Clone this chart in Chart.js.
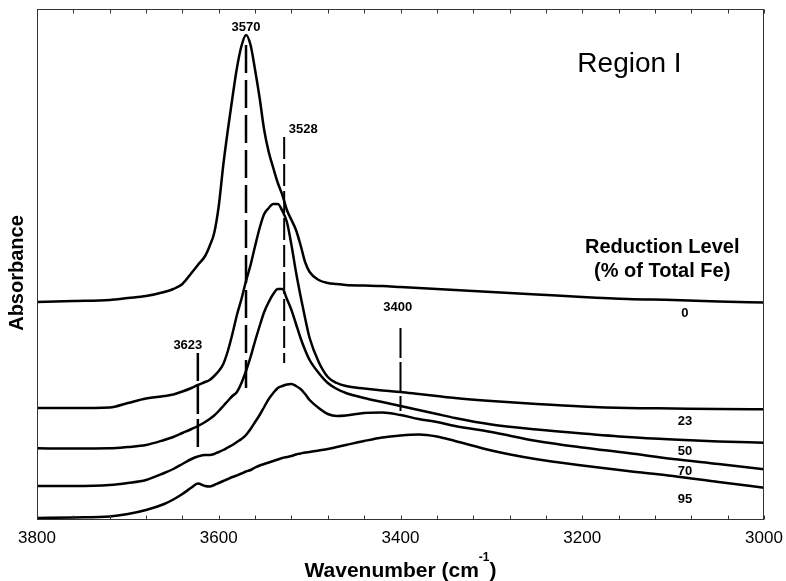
<!DOCTYPE html>
<html>
<head>
<meta charset="utf-8">
<title>Region I – OH stretching</title>
<script src="https://cdn.jsdelivr.net/npm/chart.js@4.4.1/dist/chart.umd.min.js"></script>
<style>
  html, body { margin: 0; padding: 0; background: #fff; }
  #wrap { width: 786px; height: 581px; }
</style>
</head>
<body>
<div id="wrap"><canvas id="spectra" width="786" height="581"></canvas></div>
<script>
/* --- Spectra: absorbance (arbitrary offset units) vs wavenumber --- */
var WAVENUMBERS = [3800, 3760, 3720, 3700, 3680, 3660, 3650, 3640, 3630, 3623,
  3615, 3610, 3605, 3600, 3595, 3590, 3585, 3580, 3575, 3570,
  3565, 3560, 3555, 3550, 3545, 3540, 3535, 3530, 3525, 3520,
  3515, 3510, 3505, 3500, 3490, 3480, 3470, 3460, 3440, 3420,
  3400, 3380, 3360, 3340, 3300, 3250, 3200, 3150, 3100, 3050, 3000];

var ABS_0 = [217, 218, 219, 221, 223, 227, 230, 235, 246, 254,
  263, 273, 286, 313, 354, 389, 421, 451, 473, 484,
  474, 449, 421, 389, 367, 351, 336, 324, 309, 299,
  289, 274, 257, 247, 239, 236, 235, 234, 233.5, 233,
  232, 231, 230, 229, 227, 224.5, 222, 220, 219, 217.5, 216.5];

var ABS_23 = [111, 111, 111.5, 116, 120.5, 123, 124.5, 127.5, 131, 134,
  137, 139, 143, 148, 155, 168, 185, 204, 220, 238,
  254, 273, 291, 305, 311, 315, 315, 308, 297, 274,
  247, 223, 201, 181, 157, 142, 136, 133, 130.5, 128.5,
  127, 125, 123, 121, 118, 115, 112.5, 111, 110.5, 110, 109.7];

var ABS_50 = [70.7, 70.5, 70.7, 72, 74, 79, 82, 86, 90, 93,
  97, 100, 103.5, 108, 113, 118, 123, 127, 136, 148,
  162, 178, 193, 207, 217, 225, 230, 230, 220, 209,
  195, 181, 169, 159, 146, 136, 130, 126, 121, 117,
  113, 109, 105, 101, 94.5, 89.5, 85.5, 82, 79.5, 77.5, 76.3];

var ABS_70 = [33, 33, 34, 36, 39, 46, 50, 55, 60, 62.5,
  64, 64, 65, 67, 69, 71.5, 74, 77, 80, 84,
  90, 97, 104, 112, 120, 126, 131, 133, 134.5, 135,
  133, 130, 125, 119, 111, 105, 103, 103.5, 106, 106.5,
  104, 100, 97, 93, 87, 78, 71.5, 66, 60, 55, 49.7];

var ABS_95 = [1, 1.5, 2.5, 5, 9, 15, 19.5, 25, 31.5, 35.5,
  33, 32.5, 34, 36, 38, 40, 42, 43.5, 45.5, 47.5,
  49, 51.5, 53.5, 55, 56.5, 58, 59.5, 61, 62, 63,
  64.5, 65.5, 66.5, 67, 68.5, 70, 72, 74, 78, 81.5,
  83.5, 84.5, 82.5, 78, 68.5, 59.7, 53.5, 48, 43, 37, 31.3];

var REDUCTION_LEVELS = ["0", "23", "50", "70", "95"];

/* band positions (cm-1) and the absorbance span of each marker line */
var BANDS = [3623, 3570, 3528, 3400];
var BAND_TOP = [166, 474, 382, 191];
var BAND_BOTTOM = [70, 130, 156, 108];

var FONT = "'Liberation Sans', Arial, Helvetica, sans-serif";
var INK = "#000";
var FRAME = "#333";

function pairs(xs, ys) {
  return xs.map(function (x, i) { return { x: x, y: ys[i] }; });
}

var spectra = [ABS_0, ABS_23, ABS_50, ABS_70, ABS_95].map(function (vals, i) {
  return {
    label: REDUCTION_LEVELS[i],
    data: pairs(WAVENUMBERS, vals),
    borderColor: INK,
    borderWidth: 2.5,
    pointRadius: 0,
    cubicInterpolationMode: "monotone",
    fill: false
  };
});

/* dashed markers for the assigned OH bands */
var dashStyles = [
  { dash: [28, 5], width: 2.5 },
  { dash: [28, 7], width: 2.5 },
  { dash: [22, 5], width: 2 },
  { dash: [30, 4], width: 2 }
];
var markers = BANDS.map(function (wn, i) {
  return {
    label: "band " + wn,
    data: [{ x: wn, y: BAND_TOP[i] }, { x: wn, y: BAND_BOTTOM[i] }],
    borderColor: INK,
    borderWidth: dashStyles[i].width,
    borderDash: dashStyles[i].dash,
    pointRadius: 0
  };
});

/* text placed in data coordinates: [text, wavenumber, value, font, align] */
var textMarks = [
  ["3623", 3634, 174, "bold 13px", "center"],
  ["3570", 3570, 492, "bold 13px", "center"],
  ["3528", 3507, 390, "bold 13px", "center"],
  ["3400", 3403, 212, "bold 13px", "center"],
  ["Region I", 3148, 455, "28px", "center"],
  ["Reduction Level", 3112, 272, "bold 20px", "center"],
  ["(% of Total Fe)", 3112, 248, "bold 20px", "center"]
];
var levelLabelY = [206, 98, 68, 48, 20];

var frameAndText = {
  id: "frameAndText",
  afterDraw: function (chart) {
    var ctx = chart.ctx;
    var area = chart.chartArea;
    var xs = chart.scales.x;
    var ys = chart.scales.y;
    ctx.save();

    /* box frame with inward ticks top and bottom */
    ctx.strokeStyle = FRAME;
    ctx.lineWidth = 1;
    var l = area.left + 0.5, r = area.right - 0.5, t = area.top - 0.5, b = area.bottom + 0.5;
    ctx.strokeRect(l, t, r - l, b - t);
    ctx.beginPath();
    xs.ticks.forEach(function (tk) {
      var px = Math.round(xs.getPixelForValue(tk.value)) + 0.5;
      ctx.moveTo(px, t);
      ctx.lineTo(px, t + 4);
      ctx.moveTo(px, b);
      ctx.lineTo(px, b - 4);
    });
    ctx.stroke();

    /* annotations */
    ctx.fillStyle = INK;
    ctx.textBaseline = "middle";
    textMarks.forEach(function (m) {
      ctx.font = m[3] + " " + FONT;
      ctx.textAlign = m[4];
      ctx.fillText(m[0], xs.getPixelForValue(m[1]), ys.getPixelForValue(m[2]));
    });
    ctx.font = "bold 13px " + FONT;
    ctx.textAlign = "center";
    REDUCTION_LEVELS.forEach(function (lv, i) {
      ctx.fillText(lv, xs.getPixelForValue(3087), ys.getPixelForValue(levelLabelY[i]));
    });

    /* y axis title */
    ctx.save();
    ctx.translate(17, 273);
    ctx.rotate(-Math.PI / 2);
    ctx.font = "bold 20px " + FONT;
    ctx.textAlign = "center";
    ctx.fillText("Absorbance", 0, 0);
    ctx.restore();

    /* x axis title with superscript */
    var main = "Wavenumber (cm", sup = "-1", close = ")";
    var bigFont = "bold 21px " + FONT, supFont = "bold 12px " + FONT;
    ctx.textBaseline = "alphabetic";
    ctx.textAlign = "left";
    ctx.font = bigFont;
    var wMain = ctx.measureText(main).width, wClose = ctx.measureText(close).width;
    ctx.font = supFont;
    var wSup = ctx.measureText(sup).width;
    var x0 = (area.left + area.right) / 2 - (wMain + wSup + wClose) / 2;
    var base = 577;
    ctx.font = bigFont;
    ctx.fillText(main, x0, base);
    ctx.font = supFont;
    ctx.fillText(sup, x0 + wMain, base - 16);
    ctx.font = bigFont;
    ctx.fillText(close, x0 + wMain + wSup, base);

    ctx.restore();
  }
};

new Chart(document.getElementById("spectra"), {
  type: "line",
  data: { datasets: spectra.concat(markers) },
  options: {
    responsive: false,
    animation: false,
    events: [],
    layout: { padding: { left: 37, right: 22, top: 10, bottom: 0 } },
    plugins: { legend: { display: false }, tooltip: { enabled: false } },
    scales: {
      x: {
        type: "linear",
        reverse: true,
        min: 3000,
        max: 3800,
        grid: { display: false, drawTicks: false },
        border: { display: false },
        ticks: {
          stepSize: 40,
          autoSkip: false,
          maxRotation: 0,
          padding: 9,
          color: INK,
          font: { size: 17, family: FONT },
          callback: function (v) { return v % 200 === 0 ? String(v) : ""; }
        },
        afterFit: function (scale) {
          scale.height = 62;
          scale.paddingLeft = 0;
          scale.paddingRight = 0;
        }
      },
      y: { display: false, min: 0, max: 509 }
    }
  },
  plugins: [frameAndText]
});
</script>
</body>
</html>
